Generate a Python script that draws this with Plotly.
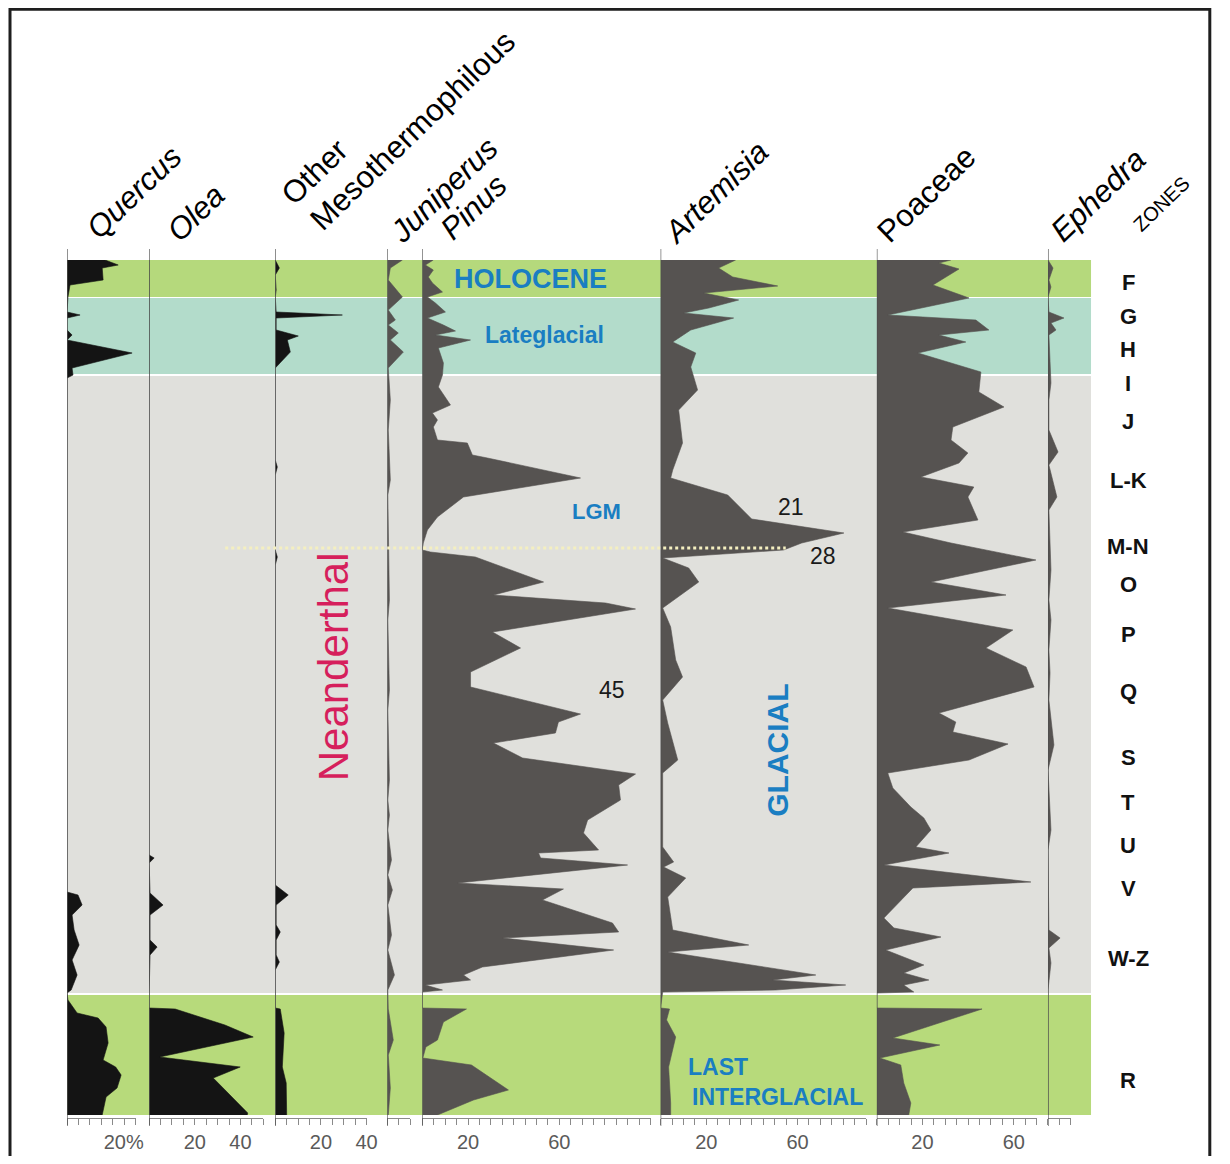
import plotly.graph_objects as go

# page body keeps an 8px margin on every side, so the figure is drawn 16px smaller and shifted
OFF = 8
W, H = 1230 - 2 * OFF, 1164 - 2 * OFF
KX = 0.99  # empirical horizontal correction of the rendered page

# ---------------- DATA (depth in arbitrary units from top, values in %) ----------------
quercus_depth = [0, 5, 8, 20, 25, 37, 52, 55, 58, 70, 75, 80, 93, 108, 115, 118, 632, 635, 645, 655, 670, 685, 700, 715, 730, 733, 740, 745, 753, 758, 767, 783, 800, 807, 815, 828, 837, 855]
quercus_pct = [16.7, 22.4, 15.4, 15.8, 1.3, 0.4, 0, 5.7, 0, 0, 2.2, 0, 28.5, 2.2, 2.6, 0, 0, 4.8, 6.6, 2.2, 3.1, 5.3, 2.2, 4.4, 1.8, 0, 0.4, 2.0, 4.4, 13.6, 17.1, 18.0, 15.8, 21.3, 23.7, 21.9, 17.1, 15.4]

olea_depth = [0, 595, 598, 603, 633, 645, 655, 680, 687, 695, 733, 748, 749, 765, 777, 797, 807, 818, 853, 855]
olea_pct = [0, 0, 2.2, 0, 0.4, 6.1, 0.4, 0.4, 3.5, 0.4, 0, 0, 11.4, 33.2, 45.6, 4.6, 39.9, 28.1, 43.2, 43.0]

othermeso_depth = [0, 8, 15, 30, 37, 52, 55, 58, 70, 76, 80, 92, 108, 200, 207, 215, 290, 297, 305, 625, 635, 645, 665, 672, 680, 695, 702, 710, 733, 748, 749, 773, 807, 823, 855]
othermeso_pct = [0, 1.8, 0, 0.4, 0, 0.4, 29.4, 0.4, 0.4, 10.1, 5.3, 6.6, 0, 0, 0.9, 0, 0, 0.9, 0, 0, 5.7, 0.4, 0.4, 2.2, 0.4, 0.4, 1.8, 0, 0, 0, 2.2, 3.9, 3.1, 4.8, 5.0]

juniperus_depth = [0, 8, 20, 37, 50, 60, 65, 73, 80, 92, 108, 140, 170, 220, 235, 340, 360, 430, 450, 520, 540, 555, 570, 600, 615, 630, 645, 675, 690, 715, 730, 749, 780, 795, 828, 855]
juniperus_pct = [6.6, 1.3, 0.4, 6.6, 0.4, 3.5, 0.4, 4.8, 1.3, 7.0, 0.4, 1.3, 0.4, 1.3, 0.2, 0.9, 0.2, 0.9, 0.2, 0.9, 0.2, 0.9, 0.2, 1.8, 0.2, 2.2, 0.2, 1.8, 0.2, 3.1, 0.2, 0.4, 2.6, 0.4, 1.3, 0.4]

pinus_depth = [0, 5, 10, 17, 23, 32, 37, 43, 52, 58, 65, 71, 75, 80, 88, 103, 115, 127, 145, 153, 160, 167, 180, 183, 195, 198, 218, 237, 257, 270, 283, 290,
               292, 297, 322, 335, 343, 349, 372, 388, 412, 427, 454, 462, 473, 483, 498, 514, 525, 540, 560, 573, 590, 593, 598, 605, 623, 629, 640, 663, 672, 678, 690, 707, 715, 720, 725, 730, 732,
               748, 749, 762, 780, 787, 798, 805, 830, 840, 855]
pinus_pct = [4.8, 1.3, 4.8, 2.6, 4.4, 8.8, 2.2, 5.7, 10.1, 2.2, 9.2, 14.5, 5.7, 21.1, 7.0, 9.2, 8.8, 7.0, 12.3, 4.4, 6.6, 4.8, 6.6, 19.7, 21.9, 28.5, 69.3, 18.0, 6.6, 2.2, 0.4, 0,
             3.5, 23.2, 53.1, 31.1, 80.3, 93.4, 30.7, 43.0, 21.1, 21.1, 69.3, 59.6, 58.3, 31.1, 43.9, 93.4, 86.0, 86.8, 72.4, 70.6, 77.2, 50.9, 51.8, 89.9, 15.4, 61.8, 52.6, 83.3, 86.0, 35.1, 83.8, 26.3, 18.0, 21.1, 1.3, 8.8, 0,
             0, 19.3, 9.2, 6.6, 1.5, 0.2, 21.5, 37.7, 22.4, 6.6]

artemisia_depth = [0, 8, 17, 26, 33, 40, 48, 53, 58, 70, 82, 93, 107, 130, 150, 183, 210, 218, 235, 259, 273, 283, 290, 298, 308, 322, 348, 367, 400, 417, 440, 463, 500, 513, 587, 602, 607, 618, 637, 670, 685, 692, 715, 720, 725, 730, 732,
                   748, 749, 760, 777, 807, 843, 855]
artemisia_pct = [32.9, 25.4, 31.6, 51.3, 18.9, 34.2, 21.1, 10.1, 32.0, 13.2, 5.3, 15.4, 13.2, 16.2, 7.9, 9.6, 5.3, 4.4, 29.4, 39.9, 80.3, 61.8, 53.9, 0.9, 12.3, 16.7, 0.9, 4.4, 6.6, 9.6, 0.9, 3.1, 7.5, 0.9, 0.9, 5.7, 1.3, 11.0, 3.1, 5.3, 38.6, 3.1, 68.0, 49.1, 81.1, 50.4, 0.9,
                 0, 3.9, 2.6, 6.6, 3.5, 4.4, 4.4]

poaceae_depth = [0, 3, 9, 25, 38, 55, 60, 70, 75, 82, 93, 112, 132, 147, 167, 180, 193, 203, 217, 227, 237, 260, 272, 283, 300, 322, 335, 348, 370, 388, 407, 427, 453, 462, 472, 484, 500, 513, 528, 547, 558, 570, 587, 593, 605, 622, 628, 658, 668, 677, 690, 705, 713, 720, 725, 732, 733,
                 748, 749, 778, 785, 798, 805, 823, 843, 855]
poaceae_pct = [32.5, 27.2, 36.0, 24.6, 40.4, 4.8, 43.4, 49.1, 27.2, 39.0, 18.0, 45.6, 44.7, 55.7, 33.3, 32.5, 39.9, 36.0, 19.3, 42.5, 39.9, 44.3, 11.4, 32.5, 69.7, 23.7, 56.6, 4.8, 59.6, 47.8, 65.4, 68.9, 27.2, 34.6, 33.3, 57.5, 40.4, 4.8, 7.0, 14.9, 20.6, 23.7, 17.1, 31.6, 3.1, 67.5, 15.8, 3.1, 7.5, 28.1, 3.9, 20.6, 11.8, 22.8, 11.8, 16.2, 0,
               0, 46.1, 7.0, 27.6, 1.3, 10.5, 11.8, 14.9, 14.0]

ephedra_depth = [0, 8, 20, 27, 37, 52, 58, 63, 70, 75, 123, 140, 170, 192, 205, 237, 250, 310, 340, 360, 390, 413, 440, 485, 510, 570, 590, 670, 678, 688, 703, 730, 855]
ephedra_pct = [0, 2.2, 0.4, 1.3, 0, 0.4, 7.0, 1.3, 3.5, 0.4, 1.3, 0.4, 0.4, 4.4, 0.4, 3.9, 0.4, 1.3, 0.4, 1.3, 0.4, 0.9, 0.4, 2.6, 0, 1.3, 0, 0.4, 5.3, 0.4, 1.3, 0, 0]

taxa_names = ["Quercus", "Olea", "Other Mesothermophilous", "Juniperus", "Pinus", "Artemisia", "Poaceae", "Ephedra"]
axis_max = [30, 50, 40, 10, 100, 90, 70, 10]
bottom_tick_labels = [{20: "20%"}, {20: "20", 40: "40"}, {20: "20", 40: "40"}, {}, {20: "20", 60: "60"}, {20: "20", 60: "60"}, {20: "20", 60: "60"}, {}]

zones = ["F", "G", "H", "I", "J", "L-K", "M-N", "O", "P", "Q", "S", "T", "U", "V", "W-Z", "R"]
zone_depth = [22, 56, 89, 123, 161, 220, 286, 324, 374, 431, 497, 542, 585, 628, 698, 820]

periods = ["Holocene", "Lateglacial", "Glacial", "Last Interglacial"]
period_top = [0, 38, 116, 735]
period_bottom = [37, 114, 733, 855]

series_depth = [quercus_depth, olea_depth, othermeso_depth, juniperus_depth, pinus_depth, artemisia_depth, poaceae_depth, ephedra_depth]
series_pct = [quercus_pct, olea_pct, othermeso_pct, juniperus_pct, pinus_pct, artemisia_pct, poaceae_pct, ephedra_pct]

# ---------------- STYLE / LAYOUT ----------------
panel_left_px = [67, 149, 275, 387, 422, 660, 876, 1047]
PX_PER_PCT = 2.28
label_shift = [11, 0, 0, 0, 0, 0, 0, 0]
fill_colors = ["#141414", "#141414", "#141414", "#565351", "#565351", "#565351", "#565351", "#565351"]
period_colors = ["#b5d97c", "#b3dccb", "#e0e0dc", "#b7da7b"]
BLUE = "#1a7ec2"
SANS = "Liberation Sans, Arial, sans-serif"

def px_x(x):
    return min((x - OFF) / KX / W, 0.999)

def px_y(y):
    return min(1 - (y - OFF) / H, 0.999)

fig = go.Figure()
layout = dict(
    width=W, height=H, margin=dict(l=0, r=0, t=0, b=0),
    paper_bgcolor="white", plot_bgcolor="rgba(0,0,0,0)", showlegend=False,
    yaxis=dict(domain=[px_y(1115), px_y(260)], range=[855, 0], visible=False, fixedrange=True),
)
shapes = []
annotations = []

for i, (name, dep, pct) in enumerate(zip(taxa_names, series_depth, series_pct)):
    n = i + 1
    xa = "x" if n == 1 else f"x{n}"
    fig.add_trace(go.Scatter(
        x=pct, y=dep, xaxis=xa, yaxis="y", mode="lines", name=name,
        fill="tozerox", fillcolor=fill_colors[i],
        line=dict(color=fill_colors[i], width=0.6), hoverinfo="x+y+name",
    ))
    x0 = panel_left_px[i]
    dom = [px_x(x0), px_x(x0 + axis_max[i] * PX_PER_PCT)]
    vals = list(range(0, axis_max[i] + 1, 5))
    texts = [bottom_tick_labels[i].get(v, "") for v in vals]
    layout["xaxis" if n == 1 else f"xaxis{n}"] = dict(
        domain=dom, range=[0, axis_max[i]], anchor="free", position=px_y(1118),
        showgrid=False, zeroline=False, showline=True, linecolor="#8a8a8a", linewidth=1,
        ticks="outside", ticklen=6, tickcolor="#8a8a8a", tickwidth=1,
        tickmode="array", tickvals=vals, ticktext=texts, ticklabelshift=label_shift[i],
        tickfont=dict(family=SANS, size=20, color="#5a5a5a"), fixedrange=True,
    )
    # top scale bar
    layout[f"xaxis{n + 8}"] = dict(
        domain=dom, range=[0, axis_max[i]], anchor="free", position=px_y(256), side="top",
        overlaying=xa, showgrid=False, zeroline=False, showline=True, linecolor="#8a8a8a", linewidth=1,
        ticks="outside", ticklen=3, tickcolor="#8a8a8a", tickwidth=1,
        tickmode="array", tickvals=vals, showticklabels=False, fixedrange=True,
    )
    # zero line of the panel
    shapes.append(dict(type="line", xref=xa, yref="paper", x0=0, x1=0, y0=px_y(1126), y1=px_y(249),
                       line=dict(color="#4d4d4d", width=1.2)))

# period bands
for top, bot, col in zip(period_top, period_bottom, period_colors):
    shapes.append(dict(type="rect", xref="paper", yref="y", x0=px_x(67), x1=px_x(1090), y0=top, y1=bot,
                       fillcolor=col, line=dict(width=0), layer="below"))

# dotted LGM line
shapes.append(dict(type="line", xref="paper", yref="y", x0=px_x(225), x1=px_x(785), y0=288, y1=288,
                   line=dict(color="#f4efc0", width=3, dash="dot")))

# frame
shapes.append(dict(type="rect", xref="paper", yref="paper", x0=px_x(10), x1=px_x(1221), y0=px_y(1160), y1=px_y(5),
                   line=dict(color="#1e1e1e", width=3)))

def ann(text, x, y, size, color="black", angle=0, family=SANS, xanchor="center", yanchor="middle"):
    annotations.append(dict(text=text, x=px_x(x), y=px_y(y), xref="paper", yref="paper", showarrow=False,
                            textangle=angle, xanchor=xanchor, yanchor=yanchor,
                            font=dict(family=family, size=size, color=color)))

# panel titles
TA = -44
TS = 31
ann("<i>Quercus</i>", 134, 193, TS, angle=TA)
ann("<i>Olea</i>", 195, 213, TS, angle=TA)
ann("Other", 315, 172, TS, angle=TA)
ann("Mesothermophilous", 412, 130, TS, angle=TA)
ann("<i>Juniperus</i>", 443, 190, TS, angle=TA)
ann("<i>Pinus</i>", 474, 207, TS, angle=TA)
ann("<i>Artemisia</i>", 715, 192, TS, angle=TA)
ann("Poaceae", 925, 194, TS, angle=TA)
ann("<i>Ephedra</i>", 1097, 196, TS, angle=TA)
ann("ZONES", 1160, 204, 20, angle=TA)

# zone letters
for z, d in zip(zones, zone_depth):
    annotations.append(dict(text=f"<b>{z}</b>", x=px_x(1127), y=d, xref="paper", yref="y", showarrow=False,
                            xanchor="center", yanchor="middle", font=dict(family=SANS, size=22, color="#111")))

# period / event labels
ann("<b>HOLOCENE</b>", 530, 279, 27, BLUE)
ann("<b>Lateglacial</b>", 544, 335, 23, BLUE)
ann("<b>LGM</b>", 596, 511, 22, BLUE)
ann("<b>GLACIAL</b>", 776, 750, 30, BLUE, angle=-90)
ann("<b>LAST</b>", 685, 1067, 23, BLUE, xanchor="left")
ann("<b>INTERGLACIAL</b>", 689, 1097, 23, BLUE, xanchor="left")
ann("Neanderthal", 333, 667, 42, "#d61f5c", angle=-90)
ann("21", 790, 507, 23, "#1a1a1a")
ann("28", 822, 556, 23, "#1a1a1a")
ann("45", 611, 690, 23, "#1a1a1a")

layout["shapes"] = shapes
layout["annotations"] = annotations
fig.update_layout(**layout)
fig.write_html("out.html")
